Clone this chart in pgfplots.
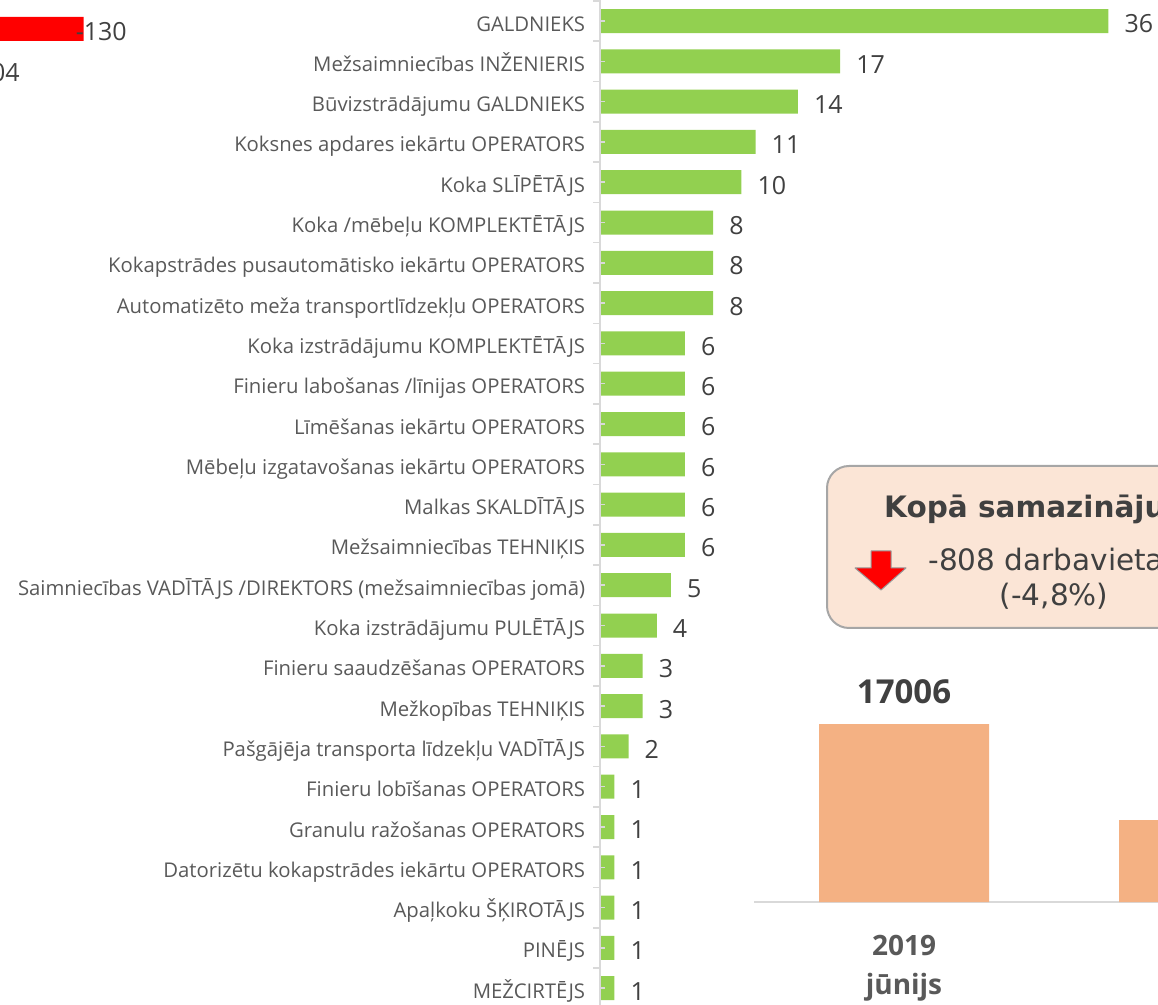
\documentclass[border=0pt]{standalone}
\usepackage{pgfplots}
\usepackage{fontspec}
\setmainfont{Open Sans}
\newfontfamily\verd{DejaVu Sans}
\pgfplotsset{compat=1.18}
\definecolor{lab}{HTML}{595959}
\definecolor{val}{HTML}{404040}
\definecolor{axl}{HTML}{D9D9D9}
\definecolor{grn}{HTML}{92D050}
\definecolor{org}{HTML}{F4B183}
\definecolor{box}{HTML}{FBE5D6}
\begin{document}
\begin{tikzpicture}[x=1pt,y=1pt]
\path[use as bounding box] (0,0) rectangle (1158,1004);
\clip (0,0) rectangle (1158,1004);
% green bars
\begin{axis}[
  at={(600.3pt,1007.18pt)}, anchor=north west,
  scale only axis, width=557pt, height=1015.56pt,
  xbar, bar width=24pt,
  xmin=0, xmax=39.47,
  ymin=-0.6, ymax=24.6, y dir=reverse,
  axis x line=none, axis y line*=left,
  y axis line style={draw=axl,line width=2pt,-},
  ytick={0,...,24},
  yticklabels={GALDNIEKS,Mežsaimniecības INŽENIERIS,Būvizstrādājumu GALDNIEKS,Koksnes apdares iekārtu OPERATORS,Koka SLĪPĒTĀJS,Koka /mēbeļu KOMPLEKTĒTĀJS,Kokapstrādes pusautomātisko iekārtu OPERATORS,Automatizēto meža transportlīdzekļu OPERATORS,Koka izstrādājumu KOMPLEKTĒTĀJS,Finieru labošanas /līnijas OPERATORS,Līmēšanas iekārtu OPERATORS,Mēbeļu izgatavošanas iekārtu OPERATORS,Malkas SKALDĪTĀJS,Mežsaimniecības TEHNIĶIS,Saimniecības VADĪTĀJS /DIREKTORS (mežsaimniecības jomā),Koka izstrādājumu PULĒTĀJS,Finieru saaudzēšanas OPERATORS,Mežkopības TEHNIĶIS,Pašgājēja transporta līdzekļu VADĪTĀJS,Finieru lobīšanas OPERATORS,Granulu ražošanas OPERATORS,Datorizētu kokapstrādes iekārtu OPERATORS,Apaļkoku ŠĶIROTĀJS,PINĒJS,MEŽCIRTĒJS},
  y tick label style={font=\fontsize{20.3}{24}\selectfont,text=lab,anchor=base east,inner sep=0pt,xshift=-15pt,yshift=-10pt},
  tick align=inside, major tick length=5pt,
  y tick style={draw=axl,line width=1.5pt},
  extra y ticks={-0.5,0.5,1.5,2.5,3.5,4.5,5.5,6.5,7.5,8.5,9.5,10.5,11.5,12.5,13.5,14.5,15.5,16.5,17.5,18.5,19.5,20.5,21.5,22.5,23.5,24.5},
  extra y tick labels={},
  extra y tick style={tick align=outside,major tick length=7pt,y tick style={draw=axl,line width=1.5pt}},
  axis on top,
  nodes near coords, point meta=x,
  /pgf/number format/assume math mode=true,
  every node near coord/.append style={font=\fontsize{25}{29}\selectfont,text=val,anchor=west,inner sep=0pt,xshift=16pt,yshift=-3pt},
]
\addplot[fill=grn,draw=none] coordinates {
(36,0)(17,1)(14,2)(11,3)(10,4)(8,5)(8,6)(8,7)(6,8)(6,9)(6,10)(6,11)(6,12)(6,13)(5,14)(4,15)(3,16)(3,17)(2,18)(1,19)(1,20)(1,21)(1,22)(1,23)(1,24)};
\end{axis}
% red bars (mostly off the page)
\begin{axis}[
  at={(-452pt,1004pt-8.75pt)}, anchor=north west,
  scale only axis, width=650pt, height=81pt,
  xbar, bar width=24pt,
  x dir=reverse, xmin=-157.77, xmax=0,
  ymin=-0.5, ymax=1.5, y dir=reverse,
  axis lines=none,
  nodes near coords, point meta=x,
  /pgf/number format/assume math mode=true,
  /pgf/number format/set thousands separator={},
  every node near coord/.append style={font=\fontsize{25}{29}\selectfont,text=val,anchor=west,inner sep=0pt,xshift=-8pt,yshift=-3pt},
]
\addplot[fill=red,draw=none] coordinates {(-130,0)(-104,1)};
\end{axis}
% orange bars
\begin{axis}[
  at={(754pt,102pt)}, anchor=south west,
  scale only axis, width=600pt, height=178pt,
  ybar, bar width=170pt,
  xmin=-0.5, xmax=1.5, ymin=15508, ymax=17006,
  axis x line=bottom, axis y line=none,
  x axis line style={draw=axl,line width=2pt,-},
  xtick={0,1}, xticklabels={{2019\\jūnijs},{}},
  major tick length=0pt,
  x tick label style={font=\fontsize{28}{39}\bfseries\selectfont,text=lab,align=center,inner sep=0pt,yshift=-33pt},
  clip=false,
  nodes near coords={\pgfplotspointmeta}, point meta=explicit symbolic,
  every node near coord/.append style={font=\fontsize{33}{38}\bfseries\selectfont,text=val,inner sep=0pt,yshift=20pt},
]
\addplot[fill=org,draw=none] coordinates {(0,17006)[17006] (1,16198)[]};
\end{axis}
% callout
\draw[draw=black!35,line width=2pt,fill=box,rounded corners=22pt] (827,376) rectangle (1300,538);
\node[anchor=west,inner sep=0pt,text=val,font=\verd\fontsize{29.5}{32}\bfseries\selectfont] at (884,495) {Kopā samazinājums};
\node[anchor=center,inner sep=0pt,text=val,font=\verd\fontsize{29.5}{35}\selectfont,align=center] at (1054,425.5) {-808 darbavietas\\(-4,8\%)};
\filldraw[draw=black!40,fill=red,line width=1pt,line join=round] (871,453) -- (891,453) -- (891,436) -- (906,436) -- (881,414) -- (855,436) -- (871,436) -- cycle;
\end{tikzpicture}
\end{document}
